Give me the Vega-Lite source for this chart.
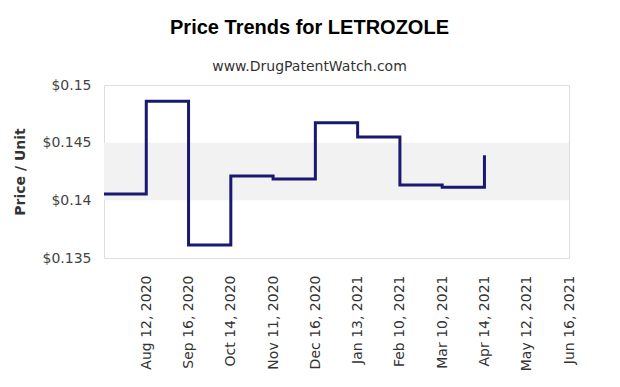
{
  "$schema": "https://vega.github.io/schema/vega-lite/v6.json",
  "width": 465,
  "height": 173,
  "autosize": {"type": "none"},
  "padding": {"left": 104, "top": 85, "right": 51, "bottom": 129},
  "background": "white",
  "config": {
    "font": "DejaVu Sans",
    "view": {"stroke": "#dddddd", "strokeWidth": 1}
  },
  "title": {
    "text": "Price Trends for LETROZOLE",
    "subtitle": "www.DrugPatentWatch.com",
    "font": "Liberation Sans",
    "fontSize": 20,
    "fontWeight": "bold",
    "color": "#000000",
    "subtitleFont": "DejaVu Sans",
    "subtitleFontSize": 14,
    "subtitleColor": "#333333",
    "subtitlePadding": 22,
    "anchor": "middle",
    "dx": -27,
    "offset": 4
  },
  "datasets": {
    "prices": [
      {"date": "Jul 15, 2020", "price": 0.14055},
      {"date": "Aug 12, 2020", "price": 0.14859},
      {"date": "Sep 16, 2020", "price": 0.13613},
      {"date": "Oct 14, 2020", "price": 0.14211},
      {"date": "Nov 11, 2020", "price": 0.14185},
      {"date": "Dec 16, 2020", "price": 0.14673},
      {"date": "Jan 13, 2021", "price": 0.14549},
      {"date": "Feb 10, 2021", "price": 0.14133},
      {"date": "Mar 10, 2021", "price": 0.14113},
      {"date": "Apr 14, 2021", "price": 0.1439},
      {"date": "May 12, 2021", "price": null},
      {"date": "Jun 16, 2021", "price": null}
    ],
    "band": [{"lo": 0.14, "hi": 0.145}]
  },
  "layer": [
    {
      "data": {"name": "band"},
      "mark": {"type": "rect", "color": "#f2f2f2"},
      "encoding": {
        "y": {"field": "lo", "type": "quantitative", "scale": {"domain": [0.135, 0.15], "nice": false, "zero": false}},
        "y2": {"field": "hi"}
      }
    },
    {
      "data": {"name": "prices"},
      "mark": {"type": "line", "interpolate": "step-after", "color": "#191970", "strokeWidth": 3, "strokeJoin": "miter"},
      "encoding": {
        "x": {
          "field": "date",
          "type": "ordinal",
          "sort": null,
          "scale": {"type": "point", "padding": 0},
          "axis": {
            "title": null,
            "values": ["Aug 12, 2020", "Sep 16, 2020", "Oct 14, 2020", "Nov 11, 2020", "Dec 16, 2020", "Jan 13, 2021", "Feb 10, 2021", "Mar 10, 2021", "Apr 14, 2021", "May 12, 2021", "Jun 16, 2021"],
            "labelAngle": -90,
            "labelFontSize": 14,
            "labelColor": "#333333",
            "labelPadding": 17,
            "ticks": false,
            "domain": false,
            "grid": false
          }
        },
        "y": {
          "field": "price",
          "type": "quantitative",
          "scale": {"domain": [0.135, 0.15], "nice": false, "zero": false},
          "axis": {
            "title": "Price / Unit",
            "titleFontSize": 14,
            "titleFontWeight": "bold",
            "titleColor": "#333333",
            "titlePadding": 15,
            "values": [0.135, 0.14, 0.145, 0.15],
            "format": "$.3~f",
            "labelFontSize": 14,
            "labelColor": "#444444",
            "labelPadding": 13,
            "ticks": false,
            "domain": false,
            "grid": false
          }
        }
      }
    }
  ]
}
